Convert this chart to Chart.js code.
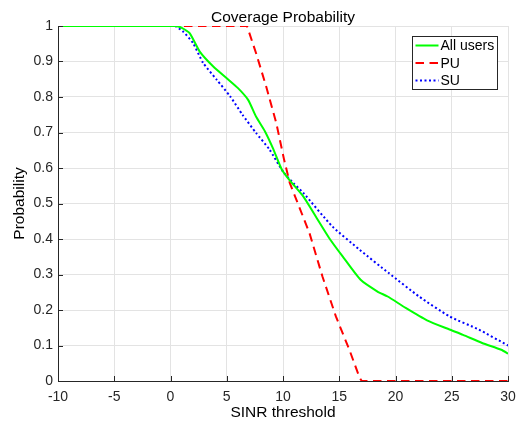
<!DOCTYPE html>
<html>
<head>
<meta charset="utf-8">
<script src="https://cdn.jsdelivr.net/npm/chart.js@4"></script>
<style>
  html, body { margin: 0; padding: 0; background: #fff; }
  #wrap { position: relative; width: 516px; height: 422px; }
</style>
</head>
<body>
<div id="wrap"><canvas id="coverage-chart"></canvas></div>
<script>
// SINR threshold (dB) sample points and coverage probability
const allUsersX = [-10, 0, 0.5, 1, 1.7, 2.6, 3.8, 5.0, 6.0, 6.9, 7.6, 8.4, 9.1, 9.9, 10.6, 11.8, 12.9, 14.1, 15.3, 16.9, 18.4, 19.3, 20.9, 22.8, 24.8, 26.0, 27.7, 29.4, 30];
const allUsersY = [1, 1, 1, 0.995, 0.98, 0.928, 0.886, 0.853, 0.825, 0.792, 0.745, 0.703, 0.656, 0.595, 0.565, 0.52, 0.464, 0.403, 0.351, 0.285, 0.252, 0.238, 0.206, 0.171, 0.145, 0.13, 0.107, 0.088, 0.077];

const puX = [-10, 6.8, 7.6, 8.5, 9.4, 10.1, 10.6, 12.35, 13.5, 14.7, 15.9, 16.8, 17, 30];
const puY = [1, 1, 0.924, 0.83, 0.727, 0.623, 0.558, 0.417, 0.295, 0.182, 0.088, 0.01, 0, 0];

const suX = [-10, 0, 0.4, 1.1, 2.0, 2.9, 4.1, 5.3, 6.4, 7.6, 8.8, 10.0, 10.9, 11.8, 14.4, 16.8, 19.4, 22.1, 24.8, 27.4, 30];
const suY = [1, 1, 1, 0.985, 0.952, 0.896, 0.849, 0.802, 0.75, 0.699, 0.652, 0.59, 0.558, 0.53, 0.435, 0.37, 0.304, 0.238, 0.182, 0.145, 0.1];

const xTicks = [-10, -5, 0, 5, 10, 15, 20, 25, 30];
const yTicks = [0, 0.1, 0.2, 0.3, 0.4, 0.5, 0.6, 0.7, 0.8, 0.9, 1];

const seriesNames = ["All users", "PU", "SU"];
const chartTitle = "Coverage Probability";

const FONT = "'Liberation Sans', Arial, sans-serif";
const INK = "#262626";

function pts(xs, ys) {
  return xs.map((x, i) => ({ x: x, y: ys[i] }));
}

// title centred over the axes, not the whole canvas
const axesTitle = {
  id: "axesTitle",
  afterDraw(chart) {
    const { ctx, chartArea } = chart;
    ctx.save();
    ctx.font = "15.5px " + FONT;
    ctx.fillStyle = "#000";
    ctx.textAlign = "center";
    ctx.textBaseline = "alphabetic";
    ctx.fillText(chartTitle, (chartArea.left + chartArea.right) / 2, 21.5);
    ctx.restore();
  }
};

// MATLAB-style ticks pointing into the axes
const innerTicks = {
  id: "innerTicks",
  afterDatasetsDraw(chart) {
    const { ctx, chartArea, scales } = chart;
    ctx.save();
    ctx.strokeStyle = INK;
    ctx.lineWidth = 1;
    ctx.beginPath();
    xTicks.forEach(v => {
      const px = Math.round(scales.x.getPixelForValue(v)) + 0.5;
      ctx.moveTo(px, chartArea.bottom);
      ctx.lineTo(px, chartArea.bottom - 5);
    });
    yTicks.forEach(v => {
      const py = Math.round(scales.y.getPixelForValue(v)) + 0.5;
      ctx.moveTo(chartArea.left, py);
      ctx.lineTo(chartArea.left + 5, py);
    });
    ctx.stroke();
    ctx.restore();
  }
};

// boxed legend in the top right corner, like MATLAB's 'northeast'
const boxLegend = {
  id: "boxLegend",
  afterDraw(chart) {
    const { ctx, chartArea } = chart;
    const w = 85, h = 53;
    const x0 = chartArea.right - 95.5, y0 = chartArea.top + 10.5;
    ctx.save();
    ctx.fillStyle = "#fff";
    ctx.fillRect(x0, y0, w, h);
    ctx.strokeStyle = INK;
    ctx.lineWidth = 1;
    ctx.strokeRect(x0, y0, w, h);
    ctx.font = "14px " + FONT;
    ctx.textBaseline = "middle";
    chart.data.datasets.forEach((ds, i) => {
      const cy = y0 + 9 + i * 17.5;
      ctx.beginPath();
      ctx.strokeStyle = ds.borderColor;
      ctx.lineWidth = ds.borderWidth;
      ctx.setLineDash(ds.borderDash || []);
      ctx.moveTo(x0 + 3, cy);
      ctx.lineTo(x0 + 26, cy);
      ctx.stroke();
      ctx.setLineDash([]);
      ctx.fillStyle = "#000";
      ctx.fillText(ds.label, x0 + 28, cy + 1);
    });
    ctx.restore();
  }
};

const config = {
  type: "line",
  data: {
    datasets: [
      {
        label: seriesNames[0],
        data: pts(allUsersX, allUsersY),
        borderColor: "#00ff00",
        borderWidth: 2,
        pointRadius: 0,
        tension: 0.2
      },
      {
        label: seriesNames[1],
        data: pts(puX, puY),
        borderColor: "#ff0000",
        borderWidth: 2,
        borderDash: [8.5, 5.5],
        pointRadius: 0,
        tension: 0
      },
      {
        label: seriesNames[2],
        data: pts(suX, suY),
        borderColor: "#0000ff",
        borderWidth: 2,
        borderDash: [2, 2.5],
        pointRadius: 0,
        tension: 0.2
      }
    ]
  },
  options: {
    responsive: true,
    maintainAspectRatio: false,
    animation: false,
    layout: { padding: { left: 0, right: 8, top: 26, bottom: 0 } },
    plugins: {
      legend: { display: false },
      tooltip: { enabled: false },
      title: { display: false }
    },
    scales: {
      x: {
        type: "linear",
        min: -10,
        max: 30,
        afterBuildTicks(scale) { scale.ticks = xTicks.map(v => ({ value: v })); },
        afterFit(scale) {
          scale.height = 41;
          scale.paddingLeft = 0;
          scale.paddingRight = 0;
        },
        ticks: {
          color: INK,
          font: { family: FONT, size: 14 },
          padding: 8,
          maxRotation: 0
        },
        grid: { color: "#e3e3e3", tickLength: 0, drawTicks: false },
        border: { color: INK, width: 1 },
        title: {
          display: true,
          text: "SINR threshold",
          color: "#000",
          font: { family: FONT, size: 15.5 },
          padding: { top: 0, bottom: 0 }
        }
      },
      y: {
        min: 0,
        max: 1,
        afterBuildTicks(scale) { scale.ticks = yTicks.map(v => ({ value: v })); },
        afterFit(scale) {
          scale.width = 58;
          scale.paddingTop = 0;
          scale.paddingBottom = 0;
        },
        ticks: {
          color: INK,
          font: { family: FONT, size: 14 },
          padding: 5,
          callback: v => String(Math.round(v * 10) / 10)
        },
        grid: { color: "#e3e3e3", tickLength: 0, drawTicks: false },
        border: { color: INK, width: 1 },
        title: {
          display: true,
          text: "Probability",
          color: "#000",
          font: { family: FONT, size: 15.5 },
          padding: { top: 10, bottom: 0 }
        }
      }
    }
  },
  plugins: [axesTitle, innerTicks, boxLegend]
};

new Chart(document.getElementById("coverage-chart").getContext("2d"), config);
</script>
</body>
</html>
